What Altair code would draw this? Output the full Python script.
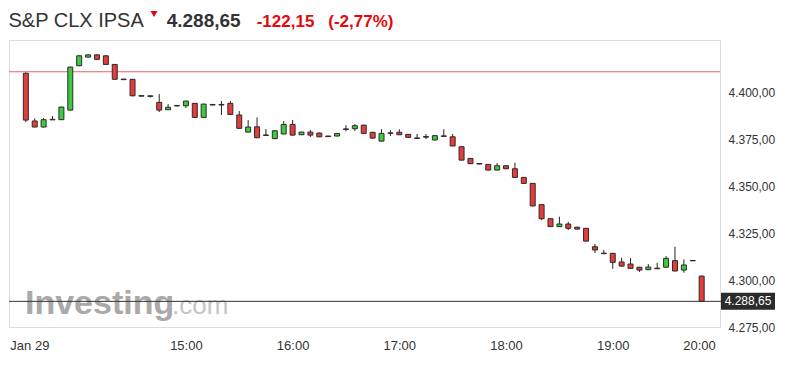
import altair as alt
import pandas as pd

# ---- data (5-minute candles) ----
opens = [4410.0, 4384.6, 4381.4, 4385.5, 4385.3, 4390.4, 4414.0, 4418.6, 4419.8, 4419.3,
         4414.7, 4406.9, 4406.8, 4398.1, 4398.0, 4394.5, 4390.6, 4392.9, 4392.7, 4394.0,
         4386.5, 4393.4, 4393.4, 4394.0, 4387.8, 4378.7, 4381.5, 4377.2, 4375.2, 4377.7,
         4382.8, 4377.3, 4378.7, 4378.2, 4376.6, 4376.6, 4380.4, 4380.5, 4382.4, 4378.6,
         4373.9, 4378.3, 4378.6, 4377.5, 4375.6, 4376.3, 4374.5, 4376.7, 4376.2, 4370.9,
         4364.7, 4362.0, 4361.5, 4358.5, 4360.8, 4359.2, 4354.6, 4351.4, 4340.1, 4332.6,
         4328.4, 4329.8, 4328.1, 4327.5, 4317.7, 4314.3, 4314.2, 4309.6, 4308.5, 4306.8,
         4305.5, 4306.3, 4306.8, 4310.3, 4305.3, 4310.4, 4302.1]
highs = [4410.3, 4386.0, 4386.2, 4387.2, 4392.2, 4413.5, 4419.5, 4420.0, 4420.0, 4419.5,
         4414.9, 4407.0, 4407.0, 4398.2, 4398.1, 4398.9, 4393.6, 4393.0, 4395.4, 4394.2,
         4393.8, 4393.5, 4395.2, 4395.2, 4389.9, 4385.1, 4386.5, 4380.3, 4379.6, 4384.6,
         4385.1, 4378.9, 4379.8, 4378.4, 4376.7, 4378.2, 4382.4, 4383.0, 4382.6, 4378.8,
         4380.2, 4379.8, 4380.2, 4377.7, 4377.7, 4377.7, 4377.0, 4380.2, 4377.7, 4371.1,
         4364.9, 4362.1, 4361.7, 4362.2, 4361.0, 4362.4, 4354.8, 4351.6, 4340.3, 4332.8,
         4333.7, 4330.9, 4328.3, 4327.7, 4319.1, 4316.0, 4314.4, 4311.9, 4311.7, 4307.0,
         4308.5, 4309.2, 4312.8, 4317.7, 4311.0, 4310.5, 4302.3]
lows = [4384.0, 4381.2, 4381.2, 4385.2, 4385.1, 4390.2, 4413.8, 4418.4, 4417.2, 4414.5,
        4406.6, 4406.6, 4397.8, 4397.8, 4397.1, 4389.4, 4390.4, 4392.5, 4391.5, 4386.3,
        4386.3, 4393.0, 4387.8, 4387.9, 4380.5, 4378.5, 4375.5, 4376.9, 4375.0, 4377.5,
        4376.9, 4377.1, 4376.1, 4376.0, 4376.2, 4376.4, 4379.1, 4379.3, 4377.8, 4375.3,
        4373.7, 4376.6, 4377.1, 4375.5, 4375.3, 4375.0, 4374.3, 4376.4, 4371.1, 4363.6,
        4361.7, 4361.7, 4358.3, 4358.3, 4359.0, 4354.4, 4351.2, 4339.2, 4331.9, 4328.2,
        4328.2, 4326.6, 4326.9, 4320.5, 4314.4, 4314.0, 4306.0, 4307.2, 4306.0, 4304.3,
        4305.3, 4306.0, 4306.6, 4304.6, 4303.9, 4310.1, 4288.4]
closes = [4385.1, 4381.4, 4385.3, 4385.2, 4392.0, 4413.3, 4419.3, 4419.8, 4417.4, 4414.7,
          4406.8, 4406.6, 4398.0, 4397.8, 4397.7, 4390.4, 4391.9, 4392.6, 4395.2, 4386.5,
          4393.6, 4393.1, 4393.1, 4388.1, 4380.7, 4381.4, 4375.7, 4376.9, 4379.4, 4382.8,
          4377.1, 4378.7, 4377.1, 4376.2, 4376.3, 4378.0, 4380.1, 4382.1, 4378.0, 4375.5,
          4378.0, 4378.0, 4377.3, 4375.9, 4375.3, 4376.0, 4376.8, 4376.4, 4371.3, 4363.8,
          4361.9, 4361.7, 4358.5, 4360.8, 4359.2, 4354.6, 4351.4, 4339.4, 4332.6, 4328.4,
          4329.8, 4327.5, 4327.1, 4320.7, 4316.0, 4314.0, 4309.4, 4307.4, 4306.2, 4305.3,
          4306.9, 4306.0, 4311.5, 4304.8, 4308.0, 4310.2, 4288.65]

prev_close = 4410.80
last_price = 4288.65

y_ticks = [4275, 4300, 4325, 4350, 4375, 4400]
x_tick_pos = [0.4, 18, 30, 42, 54, 66, 75.7]
x_tick_labels = ["Jan 29", "15:00", "16:00", "17:00", "18:00", "19:00", "20:00"]

title_name = "S&P CLX IPSA"
title_price = "4.288,65"
title_change = "-122,15"
title_pct = "(-2,77%)"
price_tag = "4.288,65"

UP = "#3fc93f"
DOWN = "#e63b3b"
FONT = "Liberation Sans"

df = pd.DataFrame({
    "i": list(range(len(opens))),
    "open": opens, "high": highs, "low": lows, "close": closes,
})
df["dir"] = ["up" if c >= o else "down" for o, c in zip(opens, closes)]

W, H = 711, 287
xs = alt.Scale(domain=[-1.33, 77.5], nice=False, zero=False)
ys = alt.Scale(domain=[4275, 4427.7], nice=False, zero=False)

# label expressions
x_expr = "''"
for p, l in zip(reversed(x_tick_pos), reversed(x_tick_labels)):
    x_expr = f"abs(datum.value - {p}) < 0.01 ? '{l}' : ({x_expr})"
y_expr = "replace(replace(replace(format(datum.value, ',.2f'), ',', 'X'), '.', ','), 'X', '.')"

x_axis = alt.Axis(values=x_tick_pos, labelExpr=x_expr, ticks=False, domain=False, grid=False,
                  labelPadding=12, labelFontSize=13, labelColor="#333", labelFont=FONT,
                  labelFlush=False, labelOverlap=False, title=None)
y_axis = alt.Axis(values=y_ticks, labelExpr=y_expr, orient="right", ticks=False, domain=False,
                  grid=False, labelPadding=8, labelFontSize=12, labelColor="#333",
                  labelFont=FONT, labelOverlap=False, title=None)

one = pd.DataFrame({"a": [0]})

watermark1 = alt.Chart(one).mark_text(
    text="Investing", font=FONT, fontSize=34, fontWeight="bold", color="#a9a9a9",
    align="left", baseline="alphabetic"
).encode(x=alt.value(16), y=alt.value(274))
watermark2 = alt.Chart(one).mark_text(
    text=".com", font=FONT, fontSize=26, color="#c4c4c4",
    align="left", baseline="alphabetic"
).encode(x=alt.value(163), y=alt.value(274))

base = alt.Chart(df)
wicks = base.mark_rule(color="#222", strokeWidth=1).encode(
    x=alt.X("i:Q", scale=xs, axis=x_axis),
    y=alt.Y("low:Q", scale=ys, axis=y_axis),
    y2="high:Q",
)
bodies = base.mark_bar(size=5, stroke="#2b2b2b", strokeWidth=1).encode(
    x=alt.X("i:Q", scale=xs, axis=x_axis),
    y=alt.Y("open:Q", scale=ys, axis=y_axis),
    y2="close:Q",
    color=alt.Color("dir:N", scale=alt.Scale(domain=["up", "down"], range=[UP, DOWN]), legend=None),
)

prev_line = alt.Chart(pd.DataFrame({"v": [prev_close]})).mark_rule(
    color="#e06565", strokeWidth=1
).encode(y=alt.Y("v:Q", scale=ys, axis=y_axis))

last_df = pd.DataFrame({"v": [last_price], "t": [price_tag]})
last_line = alt.Chart(last_df).mark_rule(color="#333", strokeWidth=1).encode(
    y=alt.Y("v:Q", scale=ys, axis=y_axis), x=alt.value(0), x2=alt.value(716)
)
tag_box = alt.Chart(last_df).mark_tick(
    orient="horizontal", thickness=17, size=54, color="#2b2b2b", opacity=1
).encode(y=alt.Y("v:Q", scale=ys, axis=y_axis), x=alt.value(739))
tag_text = alt.Chart(last_df).mark_text(
    font=FONT, fontSize=12, color="white", align="center", baseline="middle"
).encode(y=alt.Y("v:Q", scale=ys, axis=y_axis), x=alt.value(739), text="t:N")

t_name = alt.Chart(one).mark_text(
    text=title_name, font=FONT, fontSize=20, color="#333", align="left", baseline="alphabetic"
).encode(x=alt.value(-0.5), y=alt.value(-13))
t_arrow = alt.Chart(one).mark_point(
    shape="triangle-down", filled=True, size=50, color="#e4080a", opacity=1
).encode(x=alt.value(145), y=alt.value(-26))
t_price = alt.Chart(one).mark_text(
    text=title_price, font=FONT, fontSize=19, fontWeight="bold", color="#333",
    align="left", baseline="alphabetic"
).encode(x=alt.value(157.7), y=alt.value(-13))
t_change = alt.Chart(one).mark_text(
    text=title_change, font=FONT, fontSize=17, fontWeight="bold", color="#e4080a",
    align="left", baseline="alphabetic"
).encode(x=alt.value(247.7), y=alt.value(-13))
t_pct = alt.Chart(one).mark_text(
    text=title_pct, font=FONT, fontSize=17, fontWeight="bold", color="#e4080a",
    align="left", baseline="alphabetic"
).encode(x=alt.value(319.3), y=alt.value(-13))

chart = alt.layer(
    watermark1, watermark2, prev_line, last_line, wicks, bodies,
    tag_box, tag_text, t_name, t_arrow, t_price, t_change, t_pct
).properties(
    width=W, height=H,
    autosize=alt.AutoSizeParams(type="none"),
    padding={"left": 9, "top": 40, "right": 69, "bottom": 42},
    background="white",
).configure_view(stroke="#dcdcdc", strokeWidth=1)

chart.save("out.html", embed_options={"renderer": "svg", "actions": False})
